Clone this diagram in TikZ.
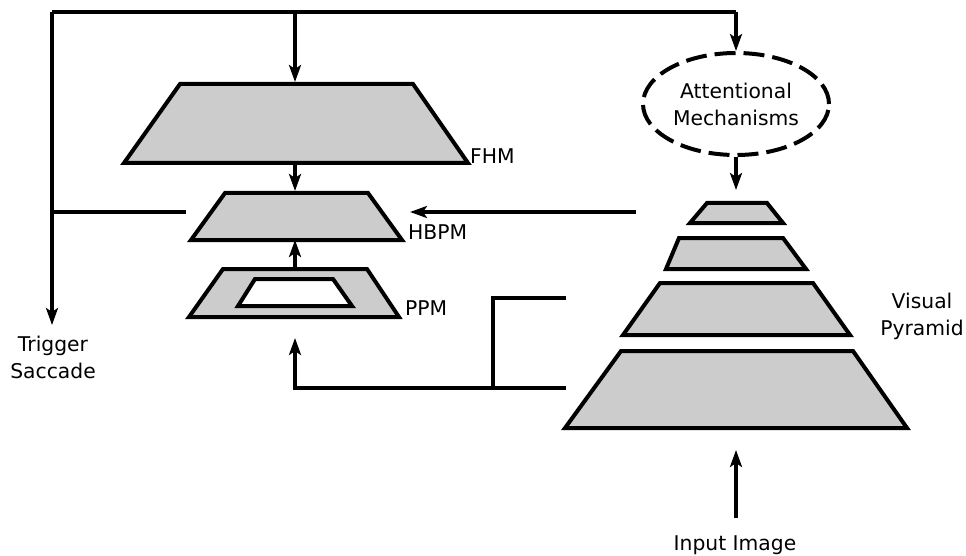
\documentclass[tikz,border=0pt]{standalone}
\usepackage{fontspec}
\setmainfont{DejaVu Sans}
\usetikzlibrary{arrows.meta,shapes.geometric}
\definecolor{trapgray}{HTML}{CCCCCC}
\begin{document}
\begin{tikzpicture}[x=1pt,y=-1pt,
  trap/.style={draw=black,fill=trapgray,line width=4pt,line join=miter},
  hole/.style={draw=black,fill=white,line width=4pt,line join=miter},
  conn/.style={draw=black,line width=3.2pt},
  arr/.style={conn,-{Stealth[length=17pt,width=12pt,inset=4pt]}},
  lbl/.style={font=\fontsize{20.3}{27}\selectfont,inner sep=0pt,align=center},
  att/.style={ellipse,draw=black,line width=4pt,dash pattern=on 21pt off 8pt,
    minimum width=186pt,minimum height=102pt,inner sep=0pt,align=center,
    font=\fontsize{20.3}{27}\selectfont}]
\useasboundingbox (0,0) rectangle (966,556);
% trapezoids
\draw[trap] (180,84) -- (413,84) -- (468,163) -- (124,163) -- cycle;
\draw[trap] (225,193) -- (368,193) -- (402,240) -- (191,240) -- cycle;
\draw[trap] (223,269) -- (367,269) -- (399,317) -- (189,317) -- cycle;
\draw[hole] (255,279) -- (333,279) -- (352,306) -- (238,306) -- cycle;
\draw[trap] (707,203) -- (767,203) -- (783,223) -- (690,223) -- cycle;
\draw[trap] (679,238) -- (783,238) -- (806,269) -- (666,269) -- cycle;
\draw[trap] (660,283) -- (813,283) -- (850,335) -- (623,335) -- cycle;
\draw[trap] (621,351) -- (853,351) -- (907,428) -- (565,428) -- cycle;
% named points
\coordinate (fhmT) at (295,82);
\coordinate (fhmB) at (295,163);
\coordinate (hbT) at (295,191);
\coordinate (hbB) at (295,240);
\coordinate (ppT) at (295,269);
\coordinate (ppB) at (295,338);
\coordinate (hbR) at (410,212);
\coordinate (vpL) at (636,212);
\coordinate (stubL) at (52,212);
\coordinate (stubR) at (186,212);
\coordinate (tl) at (52,12);
\coordinate (tm) at (295,12);
\coordinate (tr) at (736,12);
\coordinate (trig) at (52,325);
\coordinate (vpT) at (736,190);
\coordinate (inA) at (736,518);
\coordinate (inB) at (736,450);
\coordinate (brT) at (566,298);
\coordinate (brB) at (566,388);
\coordinate (brX) at (493,298);
\coordinate (brY) at (493,388);
\coordinate (ppC) at (295,388);
% ellipse
\node[att] (am) at (736,104) {Attentional\\Mechanisms};
% labels
\node[lbl,anchor=west] (fhm) at (470,156) {FHM};
\node[lbl,anchor=west] (hbpm) at (408,232) {HBPM};
\node[lbl,anchor=west] (ppm) at (405,308) {PPM};
\node[lbl] (vp) at (922,316) {Visual\\Pyramid};
\node[lbl] (ts) at (53,357) {Trigger\\Saccade};
\node[lbl] (ii) at (735,545) {Input Image};
% connectors
\draw[conn] (tl) -- (tr);
\draw[arr] (tl) -- (trig);
\draw[arr] (tm) -- (fhmT);
\draw[arr] (tr) -- (am.north);
\draw[arr] (am.south) -- (vpT);
\draw[arr] (fhmB) -- (hbT);
\draw[arr] (ppT) -- (hbB);
\draw[conn] (stubL) -- (stubR);
\draw[arr] (vpL) -- (hbR);
\draw[arr] (brB) -- (ppC) -- (ppB);
\draw[conn] (brT) -- (brX) -- (brY);
\draw[arr] (inA) -- (inB);
\end{tikzpicture}
\end{document}
